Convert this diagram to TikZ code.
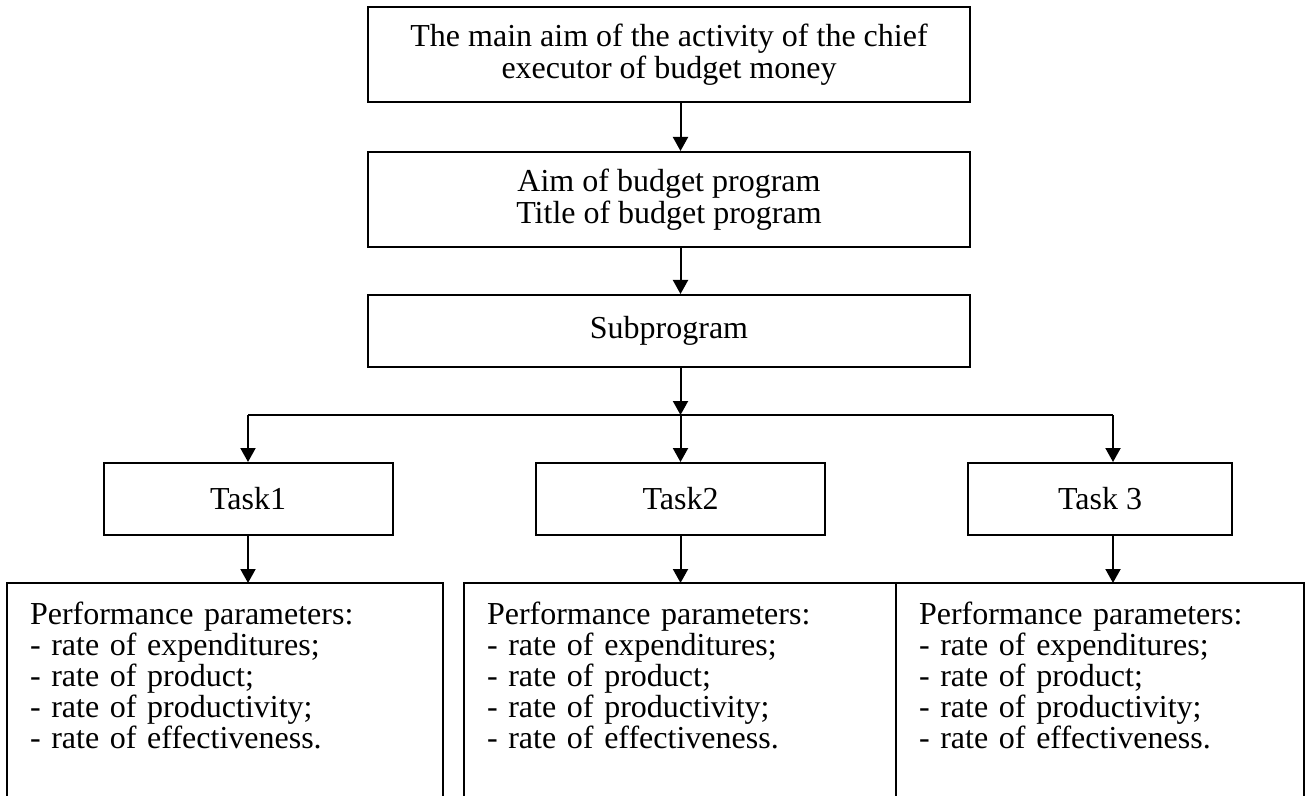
\documentclass[tikz,border=0pt]{standalone}
\usepackage{fontspec}
\setmainfont{Liberation Serif}
\usetikzlibrary{arrows.meta}

\begin{document}
\begin{tikzpicture}[x=0.5pt, y=-0.5pt, line width=1pt,
  box/.style={draw, align=center, inner sep=0pt, font=\fontsize{16pt}{16pt}\selectfont},
  listbox/.style={anchor=north west, align=left, inner xsep=11pt, inner ysep=9pt, font=\fontsize{16pt}{15.5pt}\selectfont},
  arr/.style={-{Triangle[length=7pt, width=7.5pt]}}]
  \useasboundingbox (0,0) rectangle (1305,796);
  % upper chain
  \node[box, minimum width=301pt, minimum height=47.5pt] (aim) at (669,54.5) {The main aim of the activity of the chief\\executor of budget money};
  \node[box, minimum width=301pt, minimum height=47.5pt] (prog) at (669,199.5) {Aim of budget program\\Title of budget program};
  \node[box, minimum width=301pt, minimum height=36pt] (sub) at (669,331) {Subprogram};
  % tasks
  \node[box, minimum width=144.5pt, minimum height=36pt] (task1) at (248,499) {Task1};
  \node[box, minimum width=144.5pt, minimum height=36pt] (task2) at (680.5,499) {Task2};
  \node[box, minimum width=132pt, minimum height=36pt] (task3) at (1100,499) {Task 3};
  \coordinate (fork) at (680.5,415);
  \coordinate (col3) at (1113,415);
  \coordinate (floor) at (0,796);
  % performance parameters
  \node[listbox, text width=195pt] (par1) at (7,583) {Performance parameters:\\- rate of expenditures;\\- rate of product;\\- rate of productivity;\\- rate of effectiveness.};
  \node[listbox, text width=193pt] (par2) at (464,583) {Performance parameters:\\- rate of expenditures;\\- rate of product;\\- rate of productivity;\\- rate of effectiveness.};
  \node[listbox, text width=181pt] (par3) at (896,583) {Performance parameters:\\- rate of expenditures;\\- rate of product;\\- rate of productivity;\\- rate of effectiveness.};
  \foreach \p in {par1,par2,par3}
    \draw (\p.north west |- floor) |- (\p.north east) -- (\p.north east |- floor);
  % connectors
  \draw[arr] (aim.south -| fork) -- (prog.north -| fork);
  \draw[arr] (prog.south -| fork) -- (sub.north -| fork);
  \draw[arr] (sub.south -| fork) -- (fork);
  \draw (task1 |- fork) -- (col3);
  \draw[arr] (task1 |- fork) -- (task1.north);
  \draw[arr] (task1.south) -- (task1 |- par1.north);
  \draw[arr] (fork) -- (task2.north);
  \draw[arr] (task2.south) -- (task2 |- par2.north);
  \draw[arr] (col3) -- (col3 |- task3.north);
  \draw[arr] (task3.south -| col3) -- (col3 |- par3.north);
\end{tikzpicture}
\end{document}
